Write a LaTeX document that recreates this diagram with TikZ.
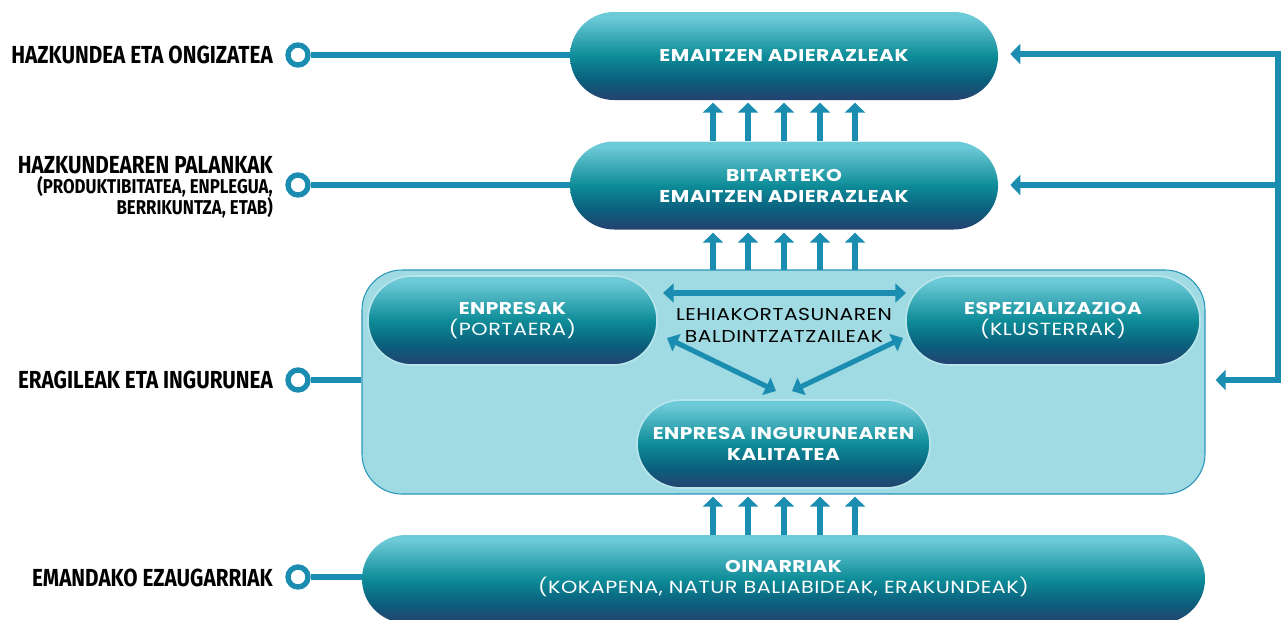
\documentclass[tikz,border=0pt]{standalone}
\usepackage{fontspec}
\usetikzlibrary{arrows.meta,calc}
\newfontfamily\labfont[FakeStretch=0.84]{Fira Sans}
\newfontfamily\popfont[FakeStretch=1.18,LetterSpace=3]{Poppins}
\definecolor{arrowblue}{RGB}{26,141,177}
\definecolor{boxfill}{RGB}{160,218,227}
\definecolor{boxline}{RGB}{42,150,185}
\definecolor{pT}{RGB}{109,202,215}
\definecolor{pM}{RGB}{13,140,152}
\definecolor{pD}{RGB}{11,94,124}
\definecolor{pB}{RGB}{37,66,111}
\definecolor{pillrim}{RGB}{184,230,236}
\pgfdeclareverticalshading{pillshade}{100bp}{color(0bp)=(pB); color(25bp)=(pB); color(36bp)=(pD); color(50bp)=(pM); color(72bp)=(pT); color(75bp)=(pT); color(100bp)=(pT)}
\newcommand{\subtxt}{\mdseries\fontsize{13.2}{15.75}\selectfont}
\tikzset{
  pill/.style={shade, shading=pillshade, rounded corners=33pt, minimum height=66pt,
    inner sep=0pt, align=center, text=white,
    font=\popfont\bfseries\fontsize{12.8}{15.75}\selectfont},
  rim/.style={draw=pillrim, line width=1.2pt},
  upar/.style={draw=arrowblue, line width=4.5pt, -{Triangle[width=15pt,length=7.5pt]}, shorten >=2pt},
  conn/.style={draw=arrowblue, line width=3.9pt},
  ring/.style={circle, draw=arrowblue, line width=4pt, fill=white, minimum size=15pt, inner sep=0pt},
  fb/.style={draw=arrowblue, line width=3.8pt, line join=miter},
  dbl/.style={draw=arrowblue, line width=3.8pt, {Triangle[width=14pt,length=8pt]}-{Triangle[width=14pt,length=8pt]}},
  lab/.style={anchor=east, inner sep=0pt, font=\labfont\bfseries\fontsize{18.5}{20}\selectfont},
  labs/.style={anchor=east, inner sep=0pt, font=\labfont\bfseries\fontsize{15}{16}\selectfont}
}
\begin{document}
\begin{tikzpicture}[x=0.75pt,y=-0.75pt]
\useasboundingbox (0,0) rectangle (1284,619);
\begin{scope}
\clip (0,0) rectangle (1284,619);
% left rings and labels
\node[ring] (r1) at (298,55) {};
\node[ring] (r2) at (298,185) {};
\node[ring] (r3) at (298,380) {};
\node[ring] (r4) at (298,577) {};
\node[lab] (l1) at (273,55) {HAZKUNDEA ETA ONGIZATEA};
\node[lab] (l2) at (273,165) {HAZKUNDEAREN PALANKAK};
\node[labs] (l2b) at (273,187) {(PRODUKTIBITATEA, ENPLEGUA,};
\node[labs] (l2c) at (273,208) {BERRIKUNTZA, ETAB)};
\node[lab] (l3) at (273,380) {ERAGILEAK ETA INGURUNEA};
\node[lab] (l4) at (273,578) {EMANDAKO EZAUGARRIAK};
% big box
\node[draw=boxline, line width=0.8pt, fill=boxfill, rounded corners=30pt, minimum width=632.25pt, minimum height=168pt, inner sep=0pt] (box) at (783.5,382) {};
% pills
\node[pill, minimum width=321pt] (emait) at (784,56) {EMAITZEN ADIERAZLEAK};
\node[pill, minimum width=321pt] (bit) at (784,185.5) {BITARTEKO\\EMAITZEN ADIERAZLEAK};
\node[pill, rim, minimum width=216.75pt, minimum height=66.75pt] (enpr) at (512.5,320.5) {ENPRESAK\\{\subtxt(PORTAERA)}};
\node[pill, rim, minimum width=220.5pt, minimum height=66.75pt] (espe) at (1053,320.5) {ESPEZIALIZAZIOA\\{\subtxt(KLUSTERRAK)}};
\node[pill, rim, minimum width=219.75pt] (kal) at (783.5,444) {ENPRESA INGURUNEAREN\\KALITATEA};
\node[pill, minimum width=632.25pt] (oin) at (783.5,579) {OINARRIAK\\{\subtxt(KOKAPENA, NATUR BALIABIDEAK, ERAKUNDEAK)}};
% middle text
\node[inner sep=0pt, align=center, font=\popfont\fontsize{12.9}{16.5}\selectfont] (lehia) at (784,325) {LEHIAKORTASUNAREN\\BALDINTZATZAILEAK};
% left connector lines
\draw[conn] (r1.east) -- (r1 -| emait.west);
\draw[conn] (r2.east) -- (r2 -| bit.west);
\draw[conn] (r3.east) -- (r3 -| box.west);
\draw[conn] (r4.east) -- (r4 -| oin.west);
% vertical arrows
\foreach \xx in {713,748,784,820,855}{
  \draw[upar] (\xx,141) -- (\xx,100);
  \draw[upar] (\xx,270) -- (\xx,230);
  \draw[upar] (\xx,535) -- (\xx,494);
}
% double arrows
\coordinate (hA) at (663,293);
\coordinate (hB) at (906,293);
\coordinate (dL1) at (667,338);
\coordinate (dL2) at (776,391);
\coordinate (dR1) at (903,338);
\coordinate (dR2) at (792,391);
\draw[dbl] (hA) -- (hB);
\draw[dbl] (dL1) -- (dL2);
\draw[dbl] (dR1) -- (dR2);
% feedback
\coordinate (fT) at (1278,54);
\coordinate (fM) at (1278,185);
\coordinate (fB) at (1278,380);
\draw[fb, -{Triangle[width=15pt,length=7.5pt]}] (fB) -- (fT) -- ([xshift=9pt]fT -| emait.east);
\draw[fb, -{Triangle[width=15pt,length=7.5pt]}] (fM) -- ([xshift=9pt]fM -| bit.east);
\draw[fb, -{Triangle[width=15pt,length=7.5pt]}] ([xshift=1.9pt]fB) -- ([xshift=7.5pt]fB -| box.east);
\end{scope}
\end{tikzpicture}
\end{document}
